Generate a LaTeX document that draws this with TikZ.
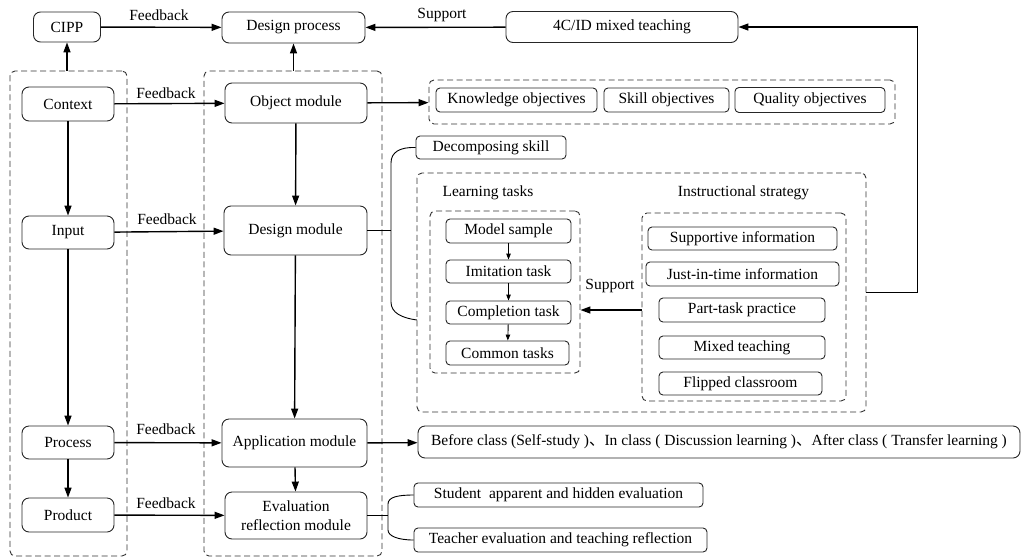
\documentclass[tikz,border=0pt]{standalone}
\usepackage{fontspec}
\setmainfont{Liberation Serif}
\newfontfamily\cjk{Noto Sans CJK SC}
\usetikzlibrary{arrows.meta}
\begin{document}
\begin{tikzpicture}[x=1pt,y=-1pt,
 every node/.style={font=\fontsize{15.5}{19}\selectfont, inner sep=0pt},
 bx/.style={draw=black!85, line width=0.9pt, rounded corners=7pt, align=center},
 sbx/.style={draw=black!85, line width=0.9pt, rounded corners=4pt, align=center},
 dbx/.style={draw=black!80, line width=0.9pt, dash pattern=on 6pt off 3.5pt, rounded corners=5pt},
 arr/.style={line width=1.4pt, -{Triangle[length=10pt,width=7pt]}},
 sarr/.style={line width=0.9pt, -{Triangle[length=6pt,width=4.5pt]}},
 tln/.style={line width=0.9pt}
]
\useasboundingbox (0,0) rectangle (1021,558);
% dashed containers
\node[dbx, minimum width=117pt, minimum height=485pt] (lbox) at (68.5,313.5) {};
\node[dbx, minimum width=178pt, minimum height=485pt] (mbox) at (293,313.5) {};
\node[dbx, minimum width=466pt, minimum height=44pt] (objbox) at (662,102) {};
\node[dbx, minimum width=449pt, minimum height=239pt] (outbox) at (641.5,292.5) {};
\node[dbx, minimum width=150pt, minimum height=162pt] (ltbox) at (505,292) {};
\node[dbx, minimum width=204pt, minimum height=188pt] (isbox) at (744,307) {};
% top row
\node[bx, minimum width=67pt, minimum height=30pt] (cipp) at (67,27) {CIPP};
\node[bx, minimum width=143pt, minimum height=31pt] (dp) at (293.5,27.5) {Design process};
\node[bx, minimum width=232pt, minimum height=31pt] (fourc) at (622,27) {4C/ID mixed teaching};
% CIPP column
\node[bx, minimum width=92pt, minimum height=34pt] (context) at (68,104) {Context};
\node[bx, minimum width=92pt, minimum height=33pt] (input) at (68,232.5) {Input};
\node[bx, minimum width=92pt, minimum height=33pt] (process) at (68,442.5) {Process};
\node[bx, minimum width=92pt, minimum height=34pt] (product) at (68,515) {Product};
% module column
\node[bx, minimum width=142pt, minimum height=40pt] (object) at (296,103) {Object module};
\node[bx, minimum width=143pt, minimum height=49pt] (design) at (295.5,230.5) {Design module};
\node[bx, minimum width=145pt, minimum height=48pt] (app) at (294.5,443) {Application module};
\node[bx, minimum width=142pt, minimum height=47pt] (eval) at (296,515.5) {Evaluation\\reflection module};
% objectives
\node[sbx, minimum width=161pt, minimum height=24pt] (know) at (516.5,100) {Knowledge objectives};
\node[sbx, minimum width=125pt, minimum height=24pt] (skill) at (666.5,100) {Skill objectives};
\node[sbx, minimum width=150pt, minimum height=25pt] (quality) at (810,100) {Quality objectives};
\node[sbx, minimum width=150pt, minimum height=23pt] (decomp) at (491,147.5) {Decomposing skill};
% learning tasks
\node (ltlabel) at (488,193) {Learning tasks};
\node[sbx, minimum width=125pt, minimum height=24pt] (model) at (508.5,231) {Model sample};
\node[sbx, minimum width=125pt, minimum height=23pt] (imit) at (508.5,271.5) {Imitation task};
\node[sbx, minimum width=125pt, minimum height=23pt] (compl) at (508.5,312.5) {Completion task};
\node[sbx, minimum width=123pt, minimum height=24pt] (common) at (507.5,353) {Common tasks};
% instructional strategy
\node (islabel) at (743.5,193) {Instructional strategy};
\node[sbx, minimum width=189pt, minimum height=23pt] (supp) at (742.5,238.5) {Supportive information};
\node[sbx, minimum width=193pt, minimum height=24pt] (jit) at (742.5,274) {Just-in-time information};
\node[sbx, minimum width=166pt, minimum height=24pt] (part) at (742,310) {Part-task practice};
\node[sbx, minimum width=166pt, minimum height=23pt] (mixed) at (742,347.5) {Mixed teaching};
\node[sbx, minimum width=163pt, minimum height=23pt] (flip) at (740.5,383.5) {Flipped classroom};
% application / evaluation outputs
\node[bx, minimum width=602pt, minimum height=32pt] (before) at (719,442) {Before class (Self-study ){\cjk 、}In class ( Discussion learning ){\cjk 、}After class ( Transfer learning )};
\node[sbx, minimum width=289pt, minimum height=24pt] (student) at (558.5,495) {Student\ \ apparent and hidden evaluation};
\node[sbx, minimum width=293pt, minimum height=24pt] (teacher) at (560.5,540) {Teacher evaluation and teaching reflection};
% labels
\node (fb0) at (159,15) {Feedback};
\node (sp0) at (442,15) {Support};
\node (fb1) at (166,93) {Feedback};
\node (fb2) at (167,219) {Feedback};
\node (fb3) at (166,429) {Feedback};
\node (fb4) at (166,503) {Feedback};
\node (sp1) at (610,286) {Support};
% connectors
\draw[arr] (cipp) -- (dp);
\draw[arr] (fourc) -- (dp);
\draw[arr] (cipp.south |- lbox.north) -- (cipp.south);
\draw[arr] (dp.south |- mbox.north) -- (dp.south);
\draw[arr] (context) -- (object);
\draw[arr] (input) -- (design);
\draw[arr] (process) -- (app);
\draw[arr] (product) -- (eval);
\draw[arr] (context) -- (input);
\draw[arr] (input) -- (process);
\draw[arr] (process) -- (product);
\draw[arr] (object) -- (design);
\draw[arr] (design) -- (app);
\draw[arr] (app) -- (eval);
\draw[arr] (object) -- (objbox);
\draw[arr] (app) -- (before);
\draw[arr] (outbox.east) -- ++(51,0) |- (fourc.east);
\draw[arr] (isbox.west |- part.west) -- (ltbox.east |- part.west);
\draw[sarr] (model) -- (imit);
\draw[sarr] (imit) -- (compl);
\draw[sarr] (compl) -- (common);
% brackets
\coordinate (dbk) at (391,230.5);
\coordinate (dbkend) at (417,320);
\draw[tln] (design.east) -- (dbk);
\draw[tln] (decomp.west) .. controls (400,147) and (391,152) .. (391,163) -- (391,302) .. controls (391,313) and (402,318) .. (dbkend);
\coordinate (ebk) at (388,515.5);
\draw[tln] (eval.east) -- (ebk);
\draw[tln] (student.west) .. controls (398,495) and (388,497) .. (388,504) -- (388,530) .. controls (388,536) and (398,540) .. (teacher.west);
\end{tikzpicture}
\end{document}
